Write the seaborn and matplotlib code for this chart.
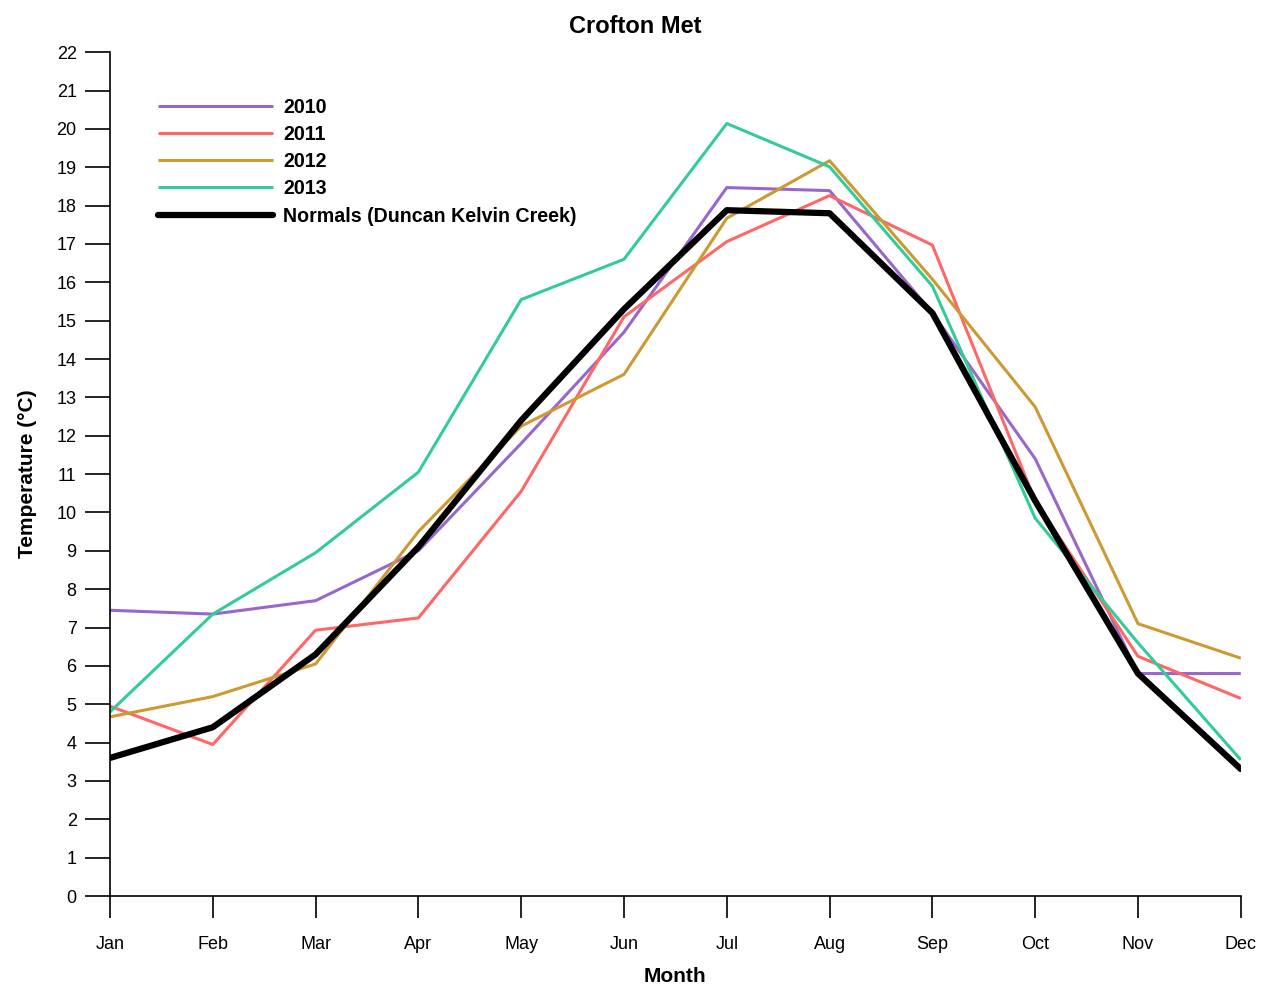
import matplotlib
matplotlib.use("Agg")
import matplotlib.pyplot as plt
import seaborn as sns
import pandas as pd

months = ["Jan", "Feb", "Mar", "Apr", "May", "Jun", "Jul", "Aug", "Sep", "Oct", "Nov", "Dec"]
t2010 = [7.45, 7.35, 7.7, 9.0, 11.8, 14.7, 18.47, 18.39, 15.2, 11.4, 5.8, 5.8]
t2011 = [4.95, 3.95, 6.93, 7.25, 10.55, 15.1, 17.06, 18.26, 16.97, 10.3, 6.25, 5.15]
t2012 = [4.67, 5.2, 6.05, 9.5, 12.25, 13.6, 17.67, 19.17, 16.08, 12.75, 7.1, 6.2]
t2013 = [4.8, 7.35, 8.95, 11.05, 15.55, 16.6, 20.14, 19.01, 15.9, 9.85, 6.6, 3.55]
normals = [3.6, 4.4, 6.3, 9.1, 12.4, 15.3, 17.88, 17.8, 15.2, 10.3, 5.8, 3.31]
series_names = ["2010", "2011", "2012", "2013", "Normals (Duncan Kelvin Creek)"]
yticks = list(range(0, 23))

colors = ["#9966CC", "#FF6666", "#CC9933", "#33CC99", "#000000"]
widths = [2.2, 2.2, 2.2, 2.2, 4.5]

sns.set_style("white")
plt.rcParams["font.family"] = ["Liberation Sans", "DejaVu Sans"]
plt.rcParams["text.color"] = "black"
plt.rcParams["axes.labelcolor"] = "black"
plt.rcParams["xtick.color"] = "black"
plt.rcParams["ytick.color"] = "black"

fig = plt.figure(figsize=(12.7, 9.84), dpi=100)
ax = fig.add_axes([0.0866, 0.0894, 0.8904, 0.8576])

xs = list(range(len(months)))
for name, vals, c, w in zip(series_names, [t2010, t2011, t2012, t2013, normals], colors, widths):
    df = pd.DataFrame({"x": xs, "y": vals})
    sns.lineplot(data=df, x="x", y="y", ax=ax, color=c, linewidth=w, label=name,
                 solid_capstyle="round" if w > 3 else "butt")

ax.set_xlim(0, 11)
ax.set_ylim(0, 22)
ax.set_xticks(xs)
ax.set_xticklabels(months)
ax.set_yticks(yticks)
ax.tick_params(axis="x", which="major", direction="out", length=16, width=1.2,
               labelsize=13, colors="black", bottom=True, pad=13)
ax.tick_params(axis="y", which="major", direction="out", length=18, width=1.2,
               labelsize=13, colors="black", left=True, pad=6)
for s in ["top", "right"]:
    ax.spines[s].set_visible(False)
for s in ["left", "bottom"]:
    ax.spines[s].set_color("black")
    ax.spines[s].set_linewidth(1.2)

ax.set_xlabel("Month", fontsize=15, fontweight="bold", labelpad=10, color="black")
ax.set_ylabel("Temperature (°C)", fontsize=15, fontweight="bold", labelpad=14, color="black")
fig.suptitle("Crofton Met", x=0.5, y=0.985, fontsize=17, fontweight="bold", color="black")

leg = ax.legend(loc="upper left", bbox_to_anchor=(0.027, 0.967), frameon=False,
                handlelength=5.85, handletextpad=0.55, labelspacing=0.42,
                prop={"weight": "bold", "size": 14.1, "family": ["Liberation Sans", "DejaVu Sans"]})
for t in leg.get_texts():
    t.set_color("black")

fig.savefig("out.png", dpi=100)
